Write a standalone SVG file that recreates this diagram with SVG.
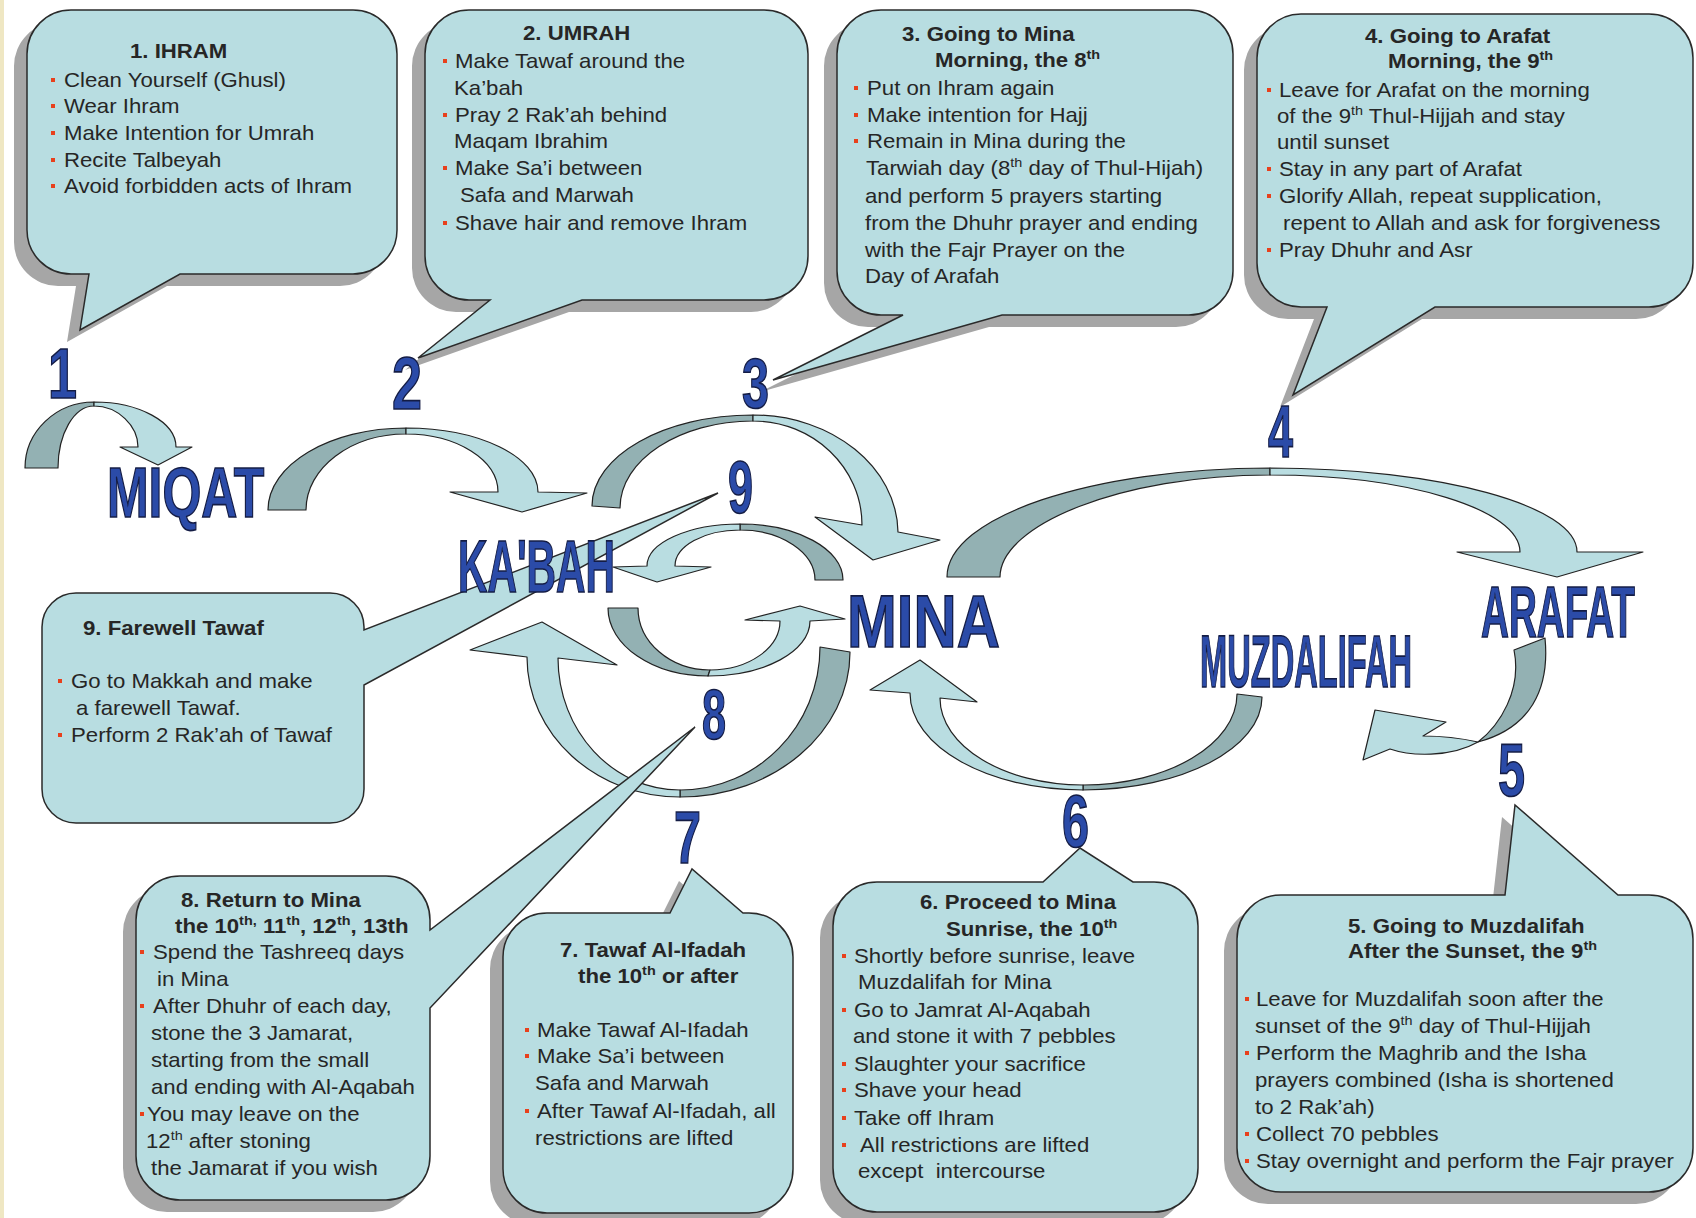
<svg xmlns="http://www.w3.org/2000/svg" width="1696" height="1218" viewBox="0 0 1696 1218">
<style>
.bg{fill:#ffffff}
.edge{fill:#efe7c3}
.box{fill:#b8dde1;stroke:#2a2a2a;stroke-width:1.5}
.sh{fill:#a6a6a6}
.lt{fill:#b9dde1;stroke:#222;stroke-width:1.2;stroke-linejoin:round}
.dk{fill:#93b1b3;stroke:#222;stroke-width:1.2;stroke-linejoin:round}
.t{font-family:"Liberation Sans",Arial,sans-serif;font-size:20px;fill:#262626}
.h{font-family:"Liberation Sans",Arial,sans-serif;font-size:20px;font-weight:bold;fill:#262626}
.sup{font-size:13px}
.b{fill:#e8401c}
.lbl{font-family:"Liberation Sans",Arial,sans-serif;font-weight:bold;fill:#2b4ba8;stroke:#141c44;stroke-width:1.6}
</style>
<rect class="bg" x="0" y="0" width="1696" height="1218"/>
<rect class="edge" x="0" y="0" width="4" height="1218"/>

<g id="connectors">
  <g id="arrow1"><path class="dk" d="M25,468 C25,431.6 55.9,402 94,402 L94,406 C74.1,406 58,433.8 58,468 Z"/><path class="lt" d="M94,402 C139,402 176,422 176,447 L192,447 L158,465 L120,447 L138,447 C138,426 118,406 94,406 Z"/></g>
  <g id="arrow2"><path class="dk" d="M268,510 C268,464.7 329.8,428 406,428 L406,434 C350.8,434 306,468 306,510 Z"/><path class="lt" d="M406,428 C478.9,428 538,456.7 538,492 L587,493 L522,512 L450,492 L498,492 C498,460 456.8,434 406,434 Z"/></g>
  <g id="arrow3"><path class="dk" d="M592,506 C592,455.8 664.1,415 753,415 L753,421 C679.6,421 620,460 620,508 Z"/><path class="lt" d="M753,415 C832.5,415 897,467.4 898,532 L940,540 L873,560 L815,517 L862,525 C862,467.6 813.2,421 753,421 Z"/></g>
  <g id="arrow4"><path class="dk" d="M947,577 C947,516.8 1091.7,468 1270,468 L1270,475 C1121,475 1000,525 1000,577 Z"/><path class="lt" d="M1270,468 C1439.5,468 1577,505.6 1577,552 L1643,552 L1557,577 L1457,552 L1520,552 C1520,509.5 1408,475 1270,475 Z"/></g>
  <g id="arrow5"><path class="dk" d="M1545,638 C1550,690 1530,728 1478,742 C1500,725 1522,690 1514,650 Z"/><path class="lt" d="M1478,742 C1460,738 1440,736 1423,736 L1446,722 L1375,710 L1363,760 L1390,749 C1410,756 1450,758 1478,742 Z"/></g>
  <g id="arrow6"><path class="dk" d="M1262,697 C1262,748.3 1181.8,790 1083,790 L1083,785 C1168,785 1237,744.2 1237,694 Z"/><path class="lt" d="M1083,790 C987.5,790 910,746.5 910,693 L870,690 L920,660 L977,702 L940,698 C940,746 1004,785 1083,785 Z"/></g>
  <g id="arrow7"><path class="dk" d="M850,652 C850,732 773.8,797 680,797 L680,790 C757.3,790 820,726 820,647 Z"/><path class="lt" d="M680,797 C595.5,797 527,734.3 527,657 L470,650 L542,622 L617,665 L558,658 C558,730.9 612.7,790 680,790 Z"/></g>
  <g id="arrow8"><path class="dk" d="M608,608 C608,645.5 652.8,676 708,676 L710,670 C670.3,670 638,642.2 638,608 Z"/><path class="lt" d="M708,676 C764.3,676 810,651.4 810,621 L845,619 L800,606 L745,620 L780,621 C780,648 748.6,670 710,670 Z"/></g>
  <g id="arrow9"><path class="dk" d="M843,580 C843,549 796.9,524 740,524 L740,530 C781.4,530 815,552.4 815,580 Z"/><path class="lt" d="M740,524 C688.7,524 647,542.8 647,566 L613,567 L657,582 L711,567 L675,566 C675,546.1 704.1,530 740,530 Z"/></g>
</g>

<g id="callout1">
  <path class="sh" transform="translate(-13,12)" d="M71,10 H353 A44,44 0 0 1 397,54 V230 A44,44 0 0 1 353,274 H180 L80,330 L89,274 H71 A44,44 0 0 1 27,230 V54 A44,44 0 0 1 71,10 Z"/>
  <path class="box" d="M71,10 H353 A44,44 0 0 1 397,54 V230 A44,44 0 0 1 353,274 H180 L80,330 L89,274 H71 A44,44 0 0 1 27,230 V54 A44,44 0 0 1 71,10 Z"/>
  <text class="h" transform="translate(130,58) scale(1.11,1)">1. IHRAM</text>
  <rect class="b" x="51" y="78" width="4" height="4"/><text class="t" transform="translate(64,87) scale(1.11,1)">Clean Yourself (Ghusl)</text>
  <rect class="b" x="51" y="104" width="4" height="4"/><text class="t" transform="translate(64,113) scale(1.11,1)">Wear Ihram</text>
  <rect class="b" x="51" y="131" width="4" height="4"/><text class="t" transform="translate(64,140) scale(1.11,1)">Make Intention for Umrah</text>
  <rect class="b" x="51" y="158" width="4" height="4"/><text class="t" transform="translate(64,167) scale(1.11,1)">Recite Talbeyah</text>
  <rect class="b" x="51" y="184" width="4" height="4"/><text class="t" transform="translate(64,193) scale(1.11,1)">Avoid forbidden acts of Ihram</text>
</g>

<g id="callout2">
  <path class="sh" transform="translate(-13,12)" d="M469,10 H764 A44,44 0 0 1 808,54 V256 A44,44 0 0 1 764,300 H582 L418,358 L490,300 H469 A44,44 0 0 1 425,256 V54 A44,44 0 0 1 469,10 Z"/>
  <path class="box" d="M469,10 H764 A44,44 0 0 1 808,54 V256 A44,44 0 0 1 764,300 H582 L418,358 L490,300 H469 A44,44 0 0 1 425,256 V54 A44,44 0 0 1 469,10 Z"/>
  <text class="h" transform="translate(523,40) scale(1.11,1)">2. UMRAH</text>
  <rect class="b" x="443" y="59" width="4" height="4"/><text class="t" transform="translate(455,68) scale(1.11,1)">Make Tawaf around the</text>
  <text class="t" transform="translate(454,95) scale(1.11,1)">Ka’bah</text>
  <rect class="b" x="443" y="113" width="4" height="4"/><text class="t" transform="translate(455,122) scale(1.11,1)">Pray 2 Rak’ah behind</text>
  <text class="t" transform="translate(454,148) scale(1.11,1)">Maqam Ibrahim</text>
  <rect class="b" x="443" y="166" width="4" height="4"/><text class="t" transform="translate(455,175) scale(1.11,1)">Make Sa’i between</text>
  <text class="t" transform="translate(460,202) scale(1.11,1)">Safa and Marwah</text>
  <rect class="b" x="443" y="221" width="4" height="4"/><text class="t" transform="translate(455,230) scale(1.11,1)">Shave hair and remove Ihram</text>
</g>

<g id="callout3">
  <path class="sh" transform="translate(-13,12)" d="M881,10 H1189 A44,44 0 0 1 1233,54 V271 A44,44 0 0 1 1189,315 H1002 L773,380 L903,315 H881 A44,44 0 0 1 837,271 V54 A44,44 0 0 1 881,10 Z"/>
  <path class="box" d="M881,10 H1189 A44,44 0 0 1 1233,54 V271 A44,44 0 0 1 1189,315 H1002 L773,380 L903,315 H881 A44,44 0 0 1 837,271 V54 A44,44 0 0 1 881,10 Z"/>
  <text class="h" transform="translate(902,41) scale(1.11,1)">3. Going to Mina</text>
  <text class="h" transform="translate(935,67) scale(1.11,1)">Morning, the 8<tspan class="sup" dy="-8">th</tspan></text>
  <rect class="b" x="854" y="86" width="4" height="4"/><text class="t" transform="translate(867,95) scale(1.11,1)">Put on Ihram again</text>
  <rect class="b" x="854" y="113" width="4" height="4"/><text class="t" transform="translate(867,122) scale(1.11,1)">Make intention for Hajj</text>
  <rect class="b" x="854" y="139" width="4" height="4"/><text class="t" transform="translate(867,148) scale(1.11,1)">Remain in Mina during the</text>
  <text class="t" transform="translate(866,175) scale(1.11,1)">Tarwiah day (8<tspan class="sup" dy="-8">th</tspan><tspan dy="8"> day of Thul-Hijah)</tspan></text>
  <text class="t" transform="translate(865,203) scale(1.11,1)">and perform 5 prayers starting</text>
  <text class="t" transform="translate(865,230) scale(1.11,1)">from the Dhuhr prayer and ending</text>
  <text class="t" transform="translate(865,257) scale(1.11,1)">with the Fajr Prayer on the</text>
  <text class="t" transform="translate(865,283) scale(1.11,1)">Day of Arafah</text>
</g>

<g id="callout4">
  <path class="sh" transform="translate(-13,12)" d="M1301,14 H1649 A44,44 0 0 1 1693,58 V263 A44,44 0 0 1 1649,307 H1435 L1293,395 L1327,307 H1301 A44,44 0 0 1 1257,263 V58 A44,44 0 0 1 1301,14 Z"/>
  <path class="box" d="M1301,14 H1649 A44,44 0 0 1 1693,58 V263 A44,44 0 0 1 1649,307 H1435 L1293,395 L1327,307 H1301 A44,44 0 0 1 1257,263 V58 A44,44 0 0 1 1301,14 Z"/>
  <text class="h" transform="translate(1365,43) scale(1.11,1)">4. Going to Arafat</text>
  <text class="h" transform="translate(1388,68) scale(1.11,1)">Morning, the 9<tspan class="sup" dy="-8">th</tspan></text>
  <rect class="b" x="1267" y="88" width="4" height="4"/><text class="t" transform="translate(1279,97) scale(1.11,1)">Leave for Arafat on the morning</text>
  <text class="t" transform="translate(1277,123) scale(1.11,1)">of the 9<tspan class="sup" dy="-8">th</tspan><tspan dy="8"> Thul-Hijjah and stay</tspan></text>
  <text class="t" transform="translate(1277,149) scale(1.11,1)">until sunset</text>
  <rect class="b" x="1267" y="167" width="4" height="4"/><text class="t" transform="translate(1279,176) scale(1.11,1)">Stay in any part of Arafat</text>
  <rect class="b" x="1267" y="194" width="4" height="4"/><text class="t" transform="translate(1279,203) scale(1.11,1)">Glorify Allah, repeat supplication,</text>
  <text class="t" transform="translate(1283,230) scale(1.11,1)">repent to Allah and ask for forgiveness</text>
  <rect class="b" x="1267" y="248" width="4" height="4"/><text class="t" transform="translate(1279,257) scale(1.11,1)">Pray Dhuhr and Asr</text>
</g>

<g id="callout9">
  <path class="box" d="M76,593 H330 A34,34 0 0 1 364,627 V630 L718,493 L364,685 V789 A34,34 0 0 1 330,823 H76 A34,34 0 0 1 42,789 V627 A34,34 0 0 1 76,593 Z"/>
  <text class="h" transform="translate(83,635) scale(1.11,1)">9. Farewell Tawaf</text>
  <rect class="b" x="58" y="679" width="4" height="4"/><text class="t" transform="translate(71,688) scale(1.11,1)">Go to Makkah and make</text>
  <text class="t" transform="translate(76,715) scale(1.11,1)">a farewell Tawaf.</text>
  <rect class="b" x="58" y="733" width="4" height="4"/><text class="t" transform="translate(71,742) scale(1.11,1)">Perform 2 Rak’ah of Tawaf</text>
</g>

<g id="callout8">
  <path class="sh" transform="translate(-13,12)" d="M180,876 H386 A44,44 0 0 1 430,920 V930 L695,727 L430,1008 V1156 A44,44 0 0 1 386,1200 H180 A44,44 0 0 1 136,1156 V920 A44,44 0 0 1 180,876 Z"/>
  <path class="box" d="M180,876 H386 A44,44 0 0 1 430,920 V930 L695,727 L430,1008 V1156 A44,44 0 0 1 386,1200 H180 A44,44 0 0 1 136,1156 V920 A44,44 0 0 1 180,876 Z"/>
  <text class="h" transform="translate(181,907) scale(1.11,1)">8. Return to Mina</text>
  <text class="h" transform="translate(175,933) scale(1.11,1)">the 10<tspan class="sup" dy="-8">th,</tspan><tspan dy="8"> 11</tspan><tspan class="sup" dy="-8">th</tspan><tspan dy="8">, 12</tspan><tspan class="sup" dy="-8">th</tspan><tspan dy="8">, 13th</tspan></text>
  <rect class="b" x="140" y="950" width="4" height="4"/><text class="t" transform="translate(153,959) scale(1.11,1)">Spend the Tashreeq days</text>
  <text class="t" transform="translate(157,986) scale(1.11,1)">in Mina</text>
  <rect class="b" x="140" y="1004" width="4" height="4"/><text class="t" transform="translate(153,1013) scale(1.11,1)">After Dhuhr of each day,</text>
  <text class="t" transform="translate(151,1040) scale(1.11,1)">stone the 3 Jamarat,</text>
  <text class="t" transform="translate(151,1067) scale(1.11,1)">starting from the small</text>
  <text class="t" transform="translate(151,1094) scale(1.11,1)">and ending with Al-Aqabah</text>
  <rect class="b" x="140" y="1112" width="4" height="4"/><text class="t" transform="translate(147,1121) scale(1.11,1)">You may leave on the</text>
  <text class="t" transform="translate(146,1148) scale(1.11,1)">12<tspan class="sup" dy="-8">th</tspan><tspan dy="8"> after stoning</tspan></text>
  <text class="t" transform="translate(151,1175) scale(1.11,1)">the Jamarat if you wish</text>
</g>

<g id="callout7">
  <path class="sh" transform="translate(-13,12)" d="M547,913 H670 L692,869 L743,913 H749 A44,44 0 0 1 793,957 V1169 A44,44 0 0 1 749,1213 H547 A44,44 0 0 1 503,1169 V957 A44,44 0 0 1 547,913 Z"/>
  <path class="box" d="M547,913 H670 L692,869 L743,913 H749 A44,44 0 0 1 793,957 V1169 A44,44 0 0 1 749,1213 H547 A44,44 0 0 1 503,1169 V957 A44,44 0 0 1 547,913 Z"/>
  <text class="h" transform="translate(560,957) scale(1.11,1)">7. Tawaf Al-Ifadah</text>
  <text class="h" transform="translate(578,983) scale(1.11,1)">the 10<tspan class="sup" dy="-8">th</tspan><tspan dy="8"> or after</tspan></text>
  <rect class="b" x="525" y="1028" width="4" height="4"/><text class="t" transform="translate(537,1037) scale(1.11,1)">Make Tawaf Al-Ifadah</text>
  <rect class="b" x="525" y="1054" width="4" height="4"/><text class="t" transform="translate(537,1063) scale(1.11,1)">Make Sa’i between</text>
  <text class="t" transform="translate(535,1090) scale(1.11,1)">Safa and Marwah</text>
  <rect class="b" x="525" y="1109" width="4" height="4"/><text class="t" transform="translate(537,1118) scale(1.11,1)">After Tawaf Al-Ifadah, all</text>
  <text class="t" transform="translate(535,1145) scale(1.11,1)">restrictions are lifted</text>
</g>

<g id="callout6">
  <path class="sh" transform="translate(-13,12)" d="M877,882 H1043 L1080,848 L1133,882 H1154 A44,44 0 0 1 1198,926 V1168 A44,44 0 0 1 1154,1212 H877 A44,44 0 0 1 833,1168 V926 A44,44 0 0 1 877,882 Z"/>
  <path class="box" d="M877,882 H1043 L1080,848 L1133,882 H1154 A44,44 0 0 1 1198,926 V1168 A44,44 0 0 1 1154,1212 H877 A44,44 0 0 1 833,1168 V926 A44,44 0 0 1 877,882 Z"/>
  <text class="h" transform="translate(920,909) scale(1.11,1)">6. Proceed to Mina</text>
  <text class="h" transform="translate(946,936) scale(1.11,1)">Sunrise, the 10<tspan class="sup" dy="-8">th</tspan></text>
  <rect class="b" x="842" y="954" width="4" height="4"/><text class="t" transform="translate(854,963) scale(1.11,1)">Shortly before sunrise, leave</text>
  <text class="t" transform="translate(858,989) scale(1.11,1)">Muzdalifah for Mina</text>
  <rect class="b" x="842" y="1008" width="4" height="4"/><text class="t" transform="translate(854,1017) scale(1.11,1)">Go to Jamrat Al-Aqabah</text>
  <text class="t" transform="translate(853,1043) scale(1.11,1)">and stone it with 7 pebbles</text>
  <rect class="b" x="842" y="1062" width="4" height="4"/><text class="t" transform="translate(854,1071) scale(1.11,1)">Slaughter your sacrifice</text>
  <rect class="b" x="842" y="1088" width="4" height="4"/><text class="t" transform="translate(854,1097) scale(1.11,1)">Shave your head</text>
  <rect class="b" x="842" y="1116" width="4" height="4"/><text class="t" transform="translate(854,1125) scale(1.11,1)">Take off Ihram</text>
  <rect class="b" x="842" y="1143" width="4" height="4"/><text class="t" transform="translate(860,1152) scale(1.11,1)">All restrictions are lifted</text>
  <text class="t" transform="translate(858,1178) scale(1.11,1)">except&#160; intercourse</text>
</g>

<g id="callout5">
  <path class="sh" transform="translate(-13,12)" d="M1281,895 H1505 L1515,805 L1618,895 H1649 A44,44 0 0 1 1693,939 V1148 A44,44 0 0 1 1649,1192 H1281 A44,44 0 0 1 1237,1148 V939 A44,44 0 0 1 1281,895 Z"/>
  <path class="box" d="M1281,895 H1505 L1515,805 L1618,895 H1649 A44,44 0 0 1 1693,939 V1148 A44,44 0 0 1 1649,1192 H1281 A44,44 0 0 1 1237,1148 V939 A44,44 0 0 1 1281,895 Z"/>
  <text class="h" transform="translate(1348,933) scale(1.11,1)">5. Going to Muzdalifah</text>
  <text class="h" transform="translate(1348,958) scale(1.11,1)">After the Sunset, the 9<tspan class="sup" dy="-8">th</tspan></text>
  <rect class="b" x="1245" y="997" width="4" height="4"/><text class="t" transform="translate(1256,1006) scale(1.11,1)">Leave for Muzdalifah soon after the</text>
  <text class="t" transform="translate(1255,1033) scale(1.11,1)">sunset of the 9<tspan class="sup" dy="-8">th</tspan><tspan dy="8"> day of Thul-Hijjah</tspan></text>
  <rect class="b" x="1245" y="1051" width="4" height="4"/><text class="t" transform="translate(1256,1060) scale(1.11,1)">Perform the Maghrib and the Isha</text>
  <text class="t" transform="translate(1255,1087) scale(1.11,1)">prayers combined (Isha is shortened</text>
  <text class="t" transform="translate(1255,1114) scale(1.11,1)">to 2 Rak’ah)</text>
  <rect class="b" x="1245" y="1132" width="4" height="4"/><text class="t" transform="translate(1256,1141) scale(1.11,1)">Collect 70 pebbles</text>
  <rect class="b" x="1245" y="1159" width="4" height="4"/><text class="t" transform="translate(1256,1168) scale(1.11,1)">Stay overnight and perform the Fajr prayer</text>
</g>

<g id="place-miqat"><text class="lbl" font-size="71" transform="translate(107,517) scale(0.704,1)">MIQAT</text></g>
<g id="place-kabah"><text class="lbl" font-size="74" transform="translate(458,592) scale(0.551,1)">KA'BAH</text></g>
<g id="place-mina"><text class="lbl" font-size="75" transform="translate(847,647) scale(0.798,1)">MINA</text></g>
<g id="place-muzdalifah"><text class="lbl" font-size="75" transform="translate(1200,687) scale(0.435,1)">MUZDALIFAH</text></g>
<g id="place-arafat"><text class="lbl" font-size="73" transform="translate(1481,637) scale(0.53,1)">ARAFAT</text></g>

<g id="step-numbers">
  <text class="lbl" font-size="71" transform="translate(48,398) scale(0.734,1)">1</text>
  <text class="lbl" font-size="75" transform="translate(392,409) scale(0.72,1)">2</text>
  <text class="lbl" font-size="71" transform="translate(742,408) scale(0.684,1)">3</text>
  <text class="lbl" font-size="75" transform="translate(1268,457) scale(0.6,1)">4</text>
  <text class="lbl" font-size="74" transform="translate(1498,796) scale(0.657,1)">5</text>
  <text class="lbl" font-size="74" transform="translate(1062,847) scale(0.657,1)">6</text>
  <text class="lbl" font-size="75" transform="translate(674,863) scale(0.647,1)">7</text>
  <text class="lbl" font-size="71" transform="translate(702,739) scale(0.608,1)">8</text>
  <text class="lbl" font-size="74" transform="translate(728,513) scale(0.608,1)">9</text>
</g>
</svg>
